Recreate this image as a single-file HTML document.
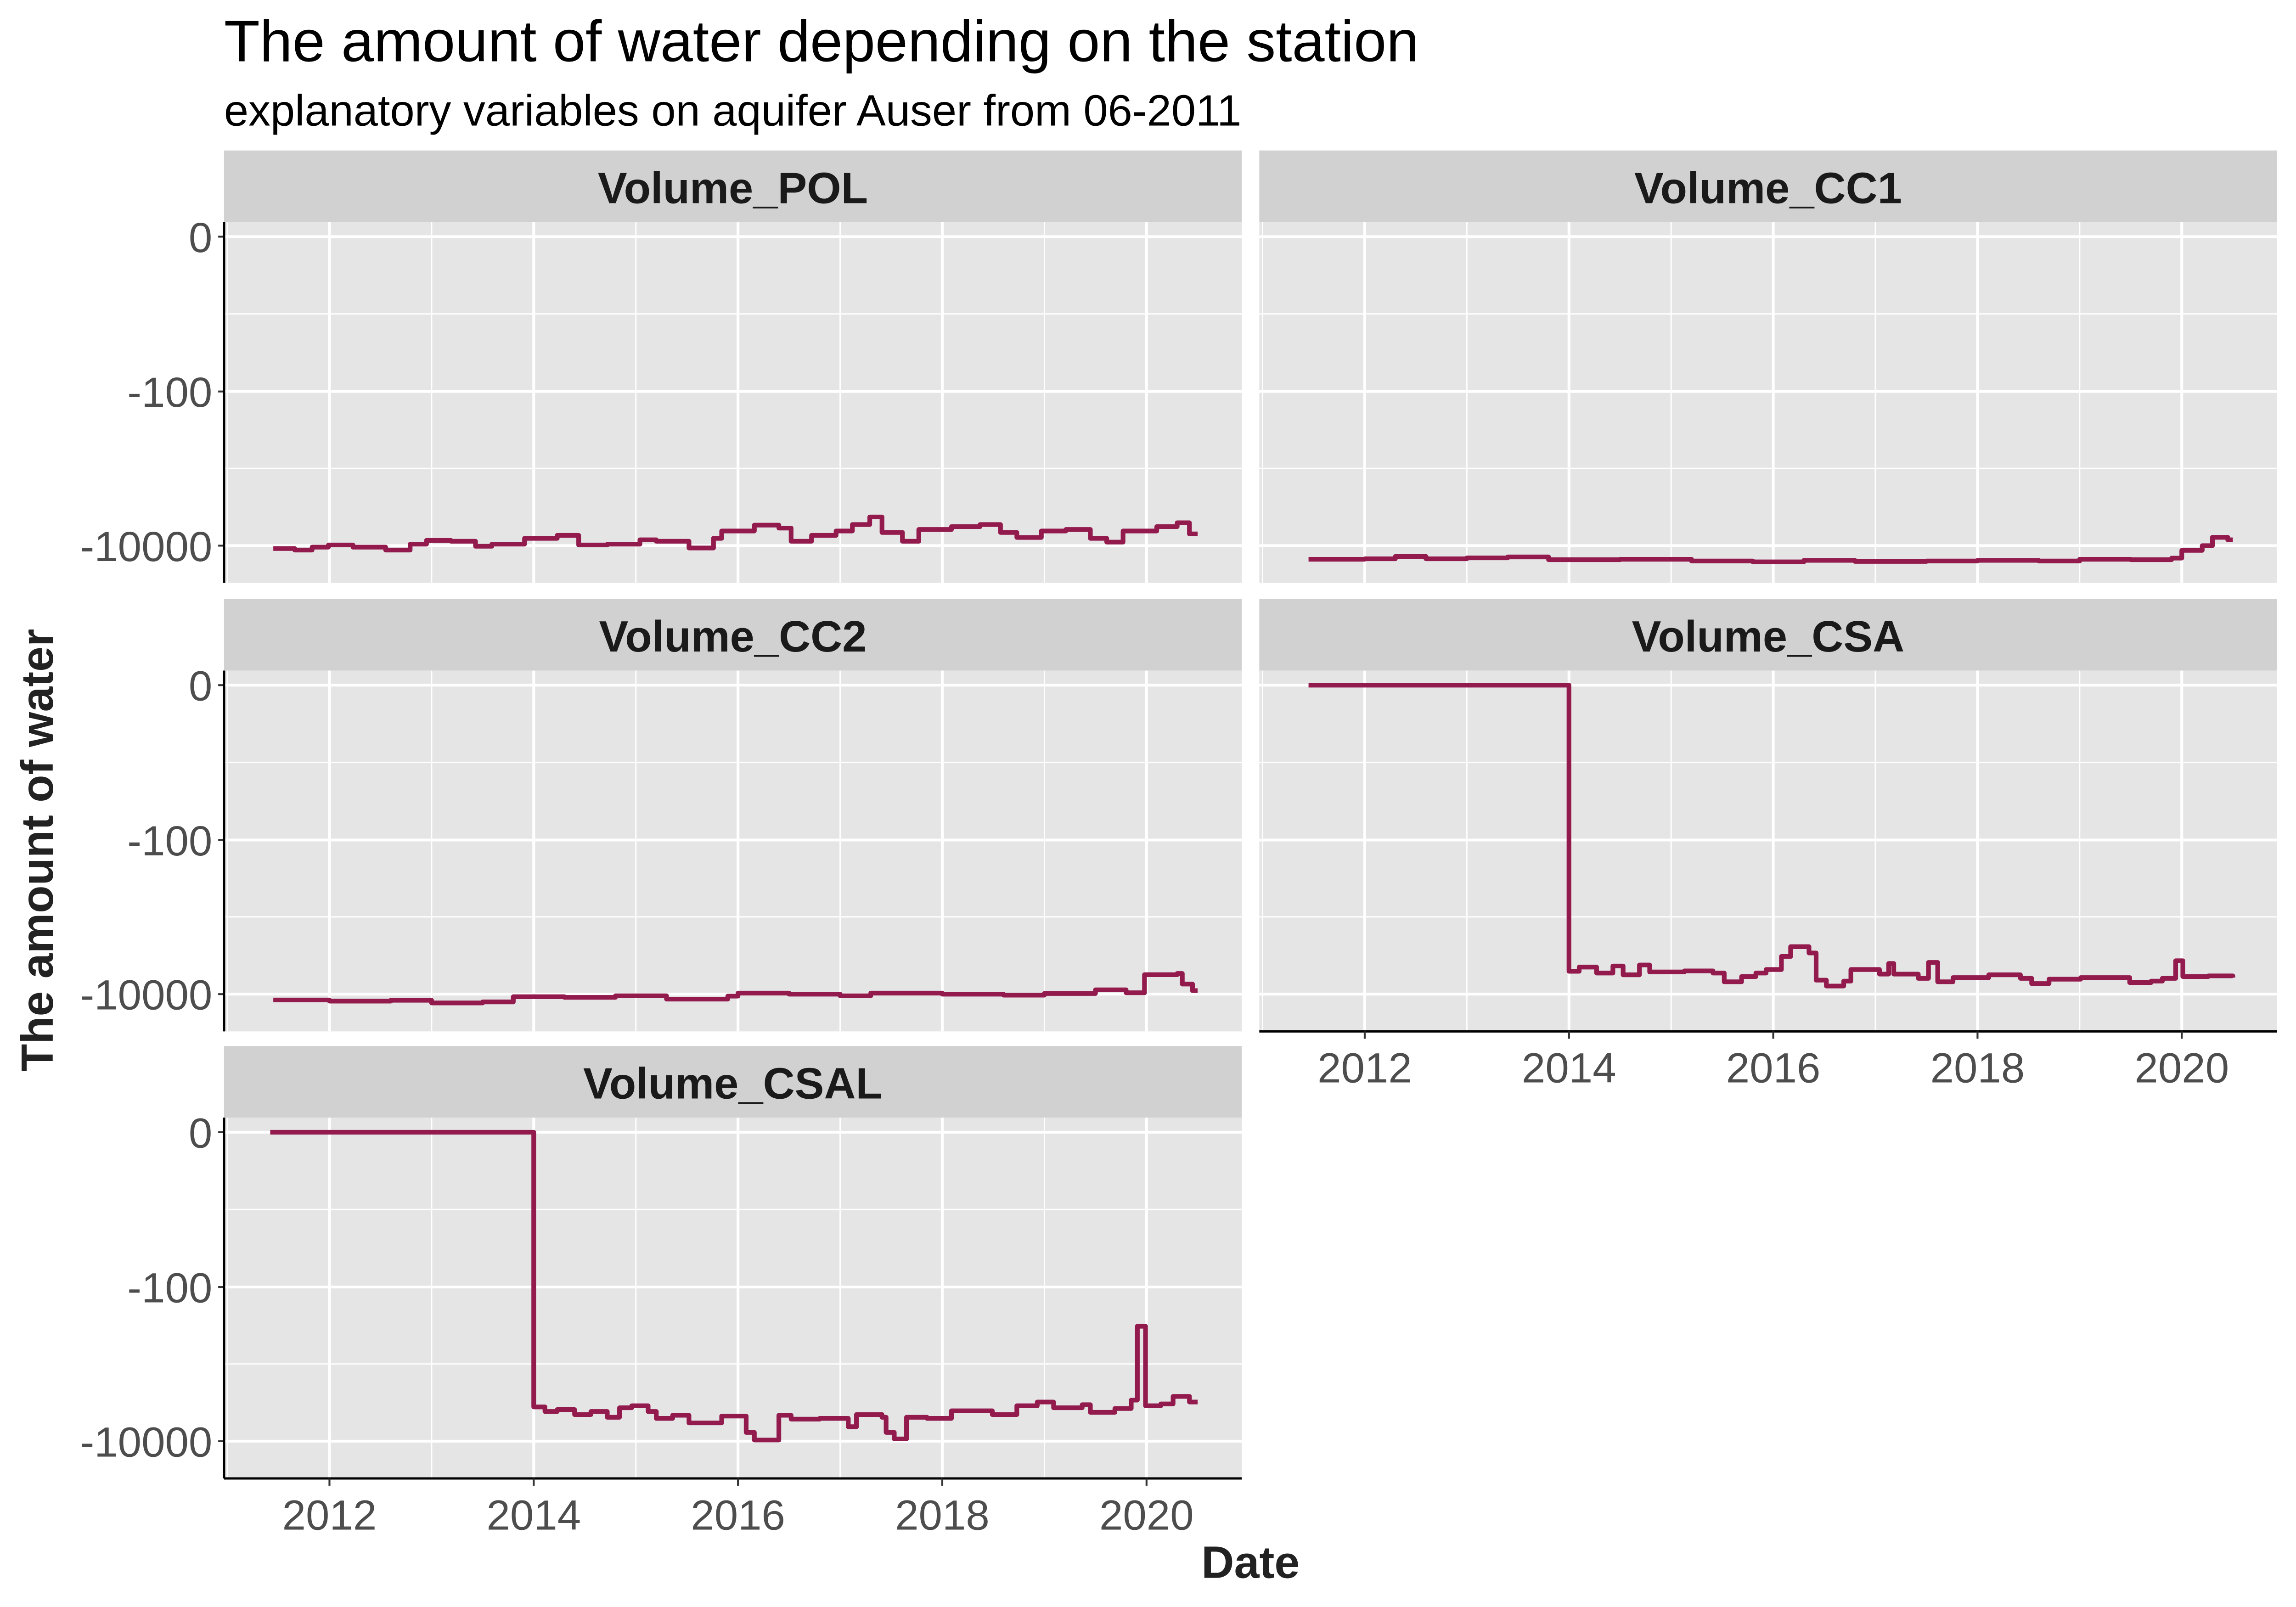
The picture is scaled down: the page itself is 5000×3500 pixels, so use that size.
<!DOCTYPE html>
<html><head><meta charset="utf-8">
<style>
html,body{margin:0;padding:0;background:#fff;}
svg{display:block;}
text{font-family:"Liberation Sans",Arial,sans-serif;}
</style></head>
<body>
<svg id="chart" width="5000" height="3500" viewBox="0 0 1568 1100" preserveAspectRatio="none" xmlns="http://www.w3.org/2000/svg">
<text x="153" y="42" font-size="40" fill="#000">The amount of water depending on the station</text>
<text x="153" y="86" font-size="30" fill="#000">explanatory variables on aquifer Auser from 06-2011</text>
<text transform="translate(36,582) rotate(-90)" text-anchor="middle" font-size="31" font-weight="bold" fill="#222">The amount of water</text>
<text x="854" y="1080" text-anchor="middle" font-size="31" font-weight="bold" fill="#222">Date</text>
<g id="panels"></g>
</svg>
<script>
const yearTicks = [2012, 2014, 2016, 2018, 2020];
const yTickValues = [0, -100, -10000];
const yTickLabels = ["0", "-100", "-10000"];
const panelNames = ["Volume_POL", "Volume_CC1", "Volume_CC2", "Volume_CSA", "Volume_CSAL"];

const polYears = [2011.45,2011.66,2011.83,2011.99,2012.23,2012.55,2012.79,2012.95,2013.19,2013.43,2013.59,2013.91,2014.23,2014.44,2014.72,2015.04,2015.20,2015.52,2015.76,2015.84,2016.16,2016.40,2016.52,2016.72,2016.96,2017.12,2017.29,2017.41,2017.61,2017.77,2018.09,2018.37,2018.57,2018.73,2018.97,2019.21,2019.45,2019.61,2019.77,2020.10,2020.30,2020.42];
const polValues = [-10900,-11400,-10450,-9800,-10450,-11400,-9570,-8550,-8770,-10180,-9570,-8040,-7360,-9800,-9570,-8400,-8770,-10720,-8040,-6460,-5420,-5920,-8770,-7360,-6460,-5330,-4250,-6750,-8770,-6180,-5670,-5330,-6750,-7830,-6460,-6180,-8040,-9000,-6460,-5670,-5060,-7050];

const cc1Years = [2011.45,2012.0,2012.3,2012.6,2013.0,2013.4,2013.8,2014.5,2015.2,2015.8,2016.3,2016.8,2017.5,2018.0,2018.6,2019.0,2019.5,2019.9,2020.0,2020.2,2020.3,2020.45];
const cc1Values = [-15000,-14800,-13800,-14800,-14400,-14000,-15200,-15000,-15800,-16200,-15500,-16000,-15800,-15500,-15800,-15000,-15200,-14500,-11500,-10000,-7800,-8400];

const cc2Years = [2011.45,2012.0,2012.6,2013.0,2013.5,2013.8,2014.3,2014.8,2015.3,2015.9,2016.0,2016.5,2017.0,2017.3,2018.0,2018.6,2019.0,2019.5,2019.8,2019.98,2020.3,2020.35,2020.45];
const cc2Values = [-11900,-12300,-12000,-13000,-12600,-10800,-11000,-10500,-11600,-10600,-9700,-10000,-10500,-9700,-10000,-10300,-9800,-8800,-9600,-5600,-5400,-7400,-9000];

const csaYears = [2011.45,2014.0,2014.10,2014.27,2014.43,2014.53,2014.69,2014.79,2015.13,2015.41,2015.52,2015.69,2015.83,2015.93,2016.08,2016.17,2016.35,2016.42,2016.52,2016.69,2016.76,2017.04,2017.13,2017.18,2017.42,2017.52,2017.61,2017.76,2018.11,2018.42,2018.53,2018.70,2019.01,2019.43,2019.49,2019.70,2019.81,2019.94,2020.01,2020.26,2020.50];
const csaValues = [0,-5060,-4460,-5330,-4320,-5620,-4190,-5160,-5000,-5330,-6920,-5920,-5330,-4800,-3250,-2430,-2930,-6580,-7850,-6780,-4800,-5500,-4010,-5500,-6240,-3890,-6920,-6110,-5620,-6240,-7300,-6400,-6110,-6110,-7080,-6780,-6240,-3690,-5920,-5800,-6110];

const csalYears = [2011.42,2014.0,2014.03,2014.11,2014.23,2014.40,2014.56,2014.72,2014.84,2014.96,2015.12,2015.20,2015.36,2015.52,2015.84,2016.08,2016.16,2016.40,2016.52,2016.80,2017.08,2017.16,2017.41,2017.45,2017.53,2017.65,2017.85,2018.09,2018.49,2018.73,2018.93,2019.09,2019.37,2019.45,2019.69,2019.85,2019.91,2019.99,2020.14,2020.26,2020.42];
const csalValues = [0,-3600,-3600,-4130,-3900,-4520,-4130,-4900,-3690,-3480,-4130,-5060,-4620,-5800,-4730,-7700,-9660,-4620,-5180,-5060,-6500,-4520,-4900,-7700,-9350,-4900,-5060,-4040,-4520,-3480,-3110,-3690,-3370,-4230,-3770,-2940,-324,-3480,-3290,-2630,-3110];

const seriesYears = [polYears, cc1Years, cc2Years, csaYears, csalYears];
const seriesValues = [polValues, cc1Values, cc2Values, csaValues, csalValues];

const NS = "http://www.w3.org/2000/svg";
const root = document.getElementById("panels");
const panelW = 695, panelX = [153, 860], rowTop = [103, 410, 716];
const stripH = 49, plotH = 247;
function mk(tag, attrs, parent) {
  const e = document.createElementNS(NS, tag);
  for (const k in attrs) e.setAttribute(k, attrs[k]);
  parent.appendChild(e);
  return e;
}
function tY(v) { return Math.log10(1 - v) / 2; }
function yScale(v, top) { return top + 10 + tY(v) * 105.75; }
function xScale(yr, left) { return left + 72 + (yr - 2012) * 69.75; }

panelNames.forEach((name, i) => {
  const col = i % 2, row = Math.floor(i / 2);
  const left = panelX[col], top = rowTop[row];
  const pTop = top + stripH;
  const g = mk("g", {}, root);
  
  
  const strip = mk("rect", {x:left, y:top, width:panelW, height:stripH, fill:"#D1D1D1"}, g);
  
  
  const st = mk("text", {x:left + panelW/2, y:top + 36, "text-anchor":"middle", "font-size":"30", "font-weight":"bold", fill:"#1A1A1A"}, g);
  st.textContent = name;
  
  
  const bg = mk("rect", {x:left, y:pTop, width:panelW, height:plotH, fill:"#E5E5E5"}, g);
  
  
  [0.5, 1.5].forEach(t => {
    const y = pTop + 10 + t * 105.75;
    const l = mk("line", {x1:left, x2:left+panelW, y1:y, y2:y, stroke:"#fff", "stroke-width":"0.9"}, g);
    
    
  });
  [2011, 2013, 2015, 2017, 2019].forEach(yr => {
    const x = xScale(yr, left);
    const l = mk("line", {x1:x, x2:x, y1:pTop, y2:pTop+plotH, stroke:"#fff", "stroke-width":"0.9"}, g);
    
    
  });
  yTickValues.forEach((v, k) => {
    const y = yScale(v, pTop);
    const l = mk("line", {x1:left, x2:left+panelW, y1:y, y2:y, stroke:"#fff", "stroke-width":"1.9"}, g);
    
    
    if (col === 0) {
      const tk = mk("line", {x1:left-4, x2:left, y1:y, y2:y, stroke:"#333", "stroke-width":"1.3"}, g);
      
      
      const tl = mk("text", {x:left-8, y:y+10.5, "text-anchor":"end", "font-size":"29", fill:"#4D4D4D"}, g);
      tl.textContent = yTickLabels[k];
      
      
    }
  });
  yearTicks.forEach(yr => {
    const x = xScale(yr, left);
    const l = mk("line", {x1:x, x2:x, y1:pTop, y2:pTop+plotH, stroke:"#fff", "stroke-width":"1.9"}, g);
    
    
  });
  const ys = seriesYears[i], vs = seriesValues[i];
  let d = "";
  for (let k = 0; k < ys.length; k++) {
    const x = xScale(ys[k], left), y = yScale(vs[k], pTop);
    if (k === 0) d += "M" + x + "," + y;
    else d += " H" + x + " V" + y;
  }
  d += " H" + xScale(2020.5, left);
  const p = mk("path", {d:d, fill:"none", stroke:"#921A4D", "stroke-width":"3.2", "stroke-linejoin":"round"}, g);
  
  
  if (col === 0) {
    const ax = mk("line", {x1:left, x2:left, y1:pTop, y2:pTop+plotH, stroke:"#000", "stroke-width":"1.6"}, g);
    
    
  }
  const bottom = (i === 3 || i === 4);
  if (bottom) {
    const by = pTop + plotH;
    const ax = mk("line", {x1:left, x2:left+panelW, y1:by, y2:by, stroke:"#000", "stroke-width":"1.6"}, g);
    
    
    yearTicks.forEach(yr => {
      const x = xScale(yr, left);
      const tk = mk("line", {x1:x, x2:x, y1:by, y2:by+5, stroke:"#333", "stroke-width":"1.3"}, g);
      
      
      const tl = mk("text", {x:x, y:by+35, "text-anchor":"middle", "font-size":"29", fill:"#4D4D4D"}, g);
      tl.textContent = String(yr);
      
      
    });
  }
});
</script>
</body></html>
